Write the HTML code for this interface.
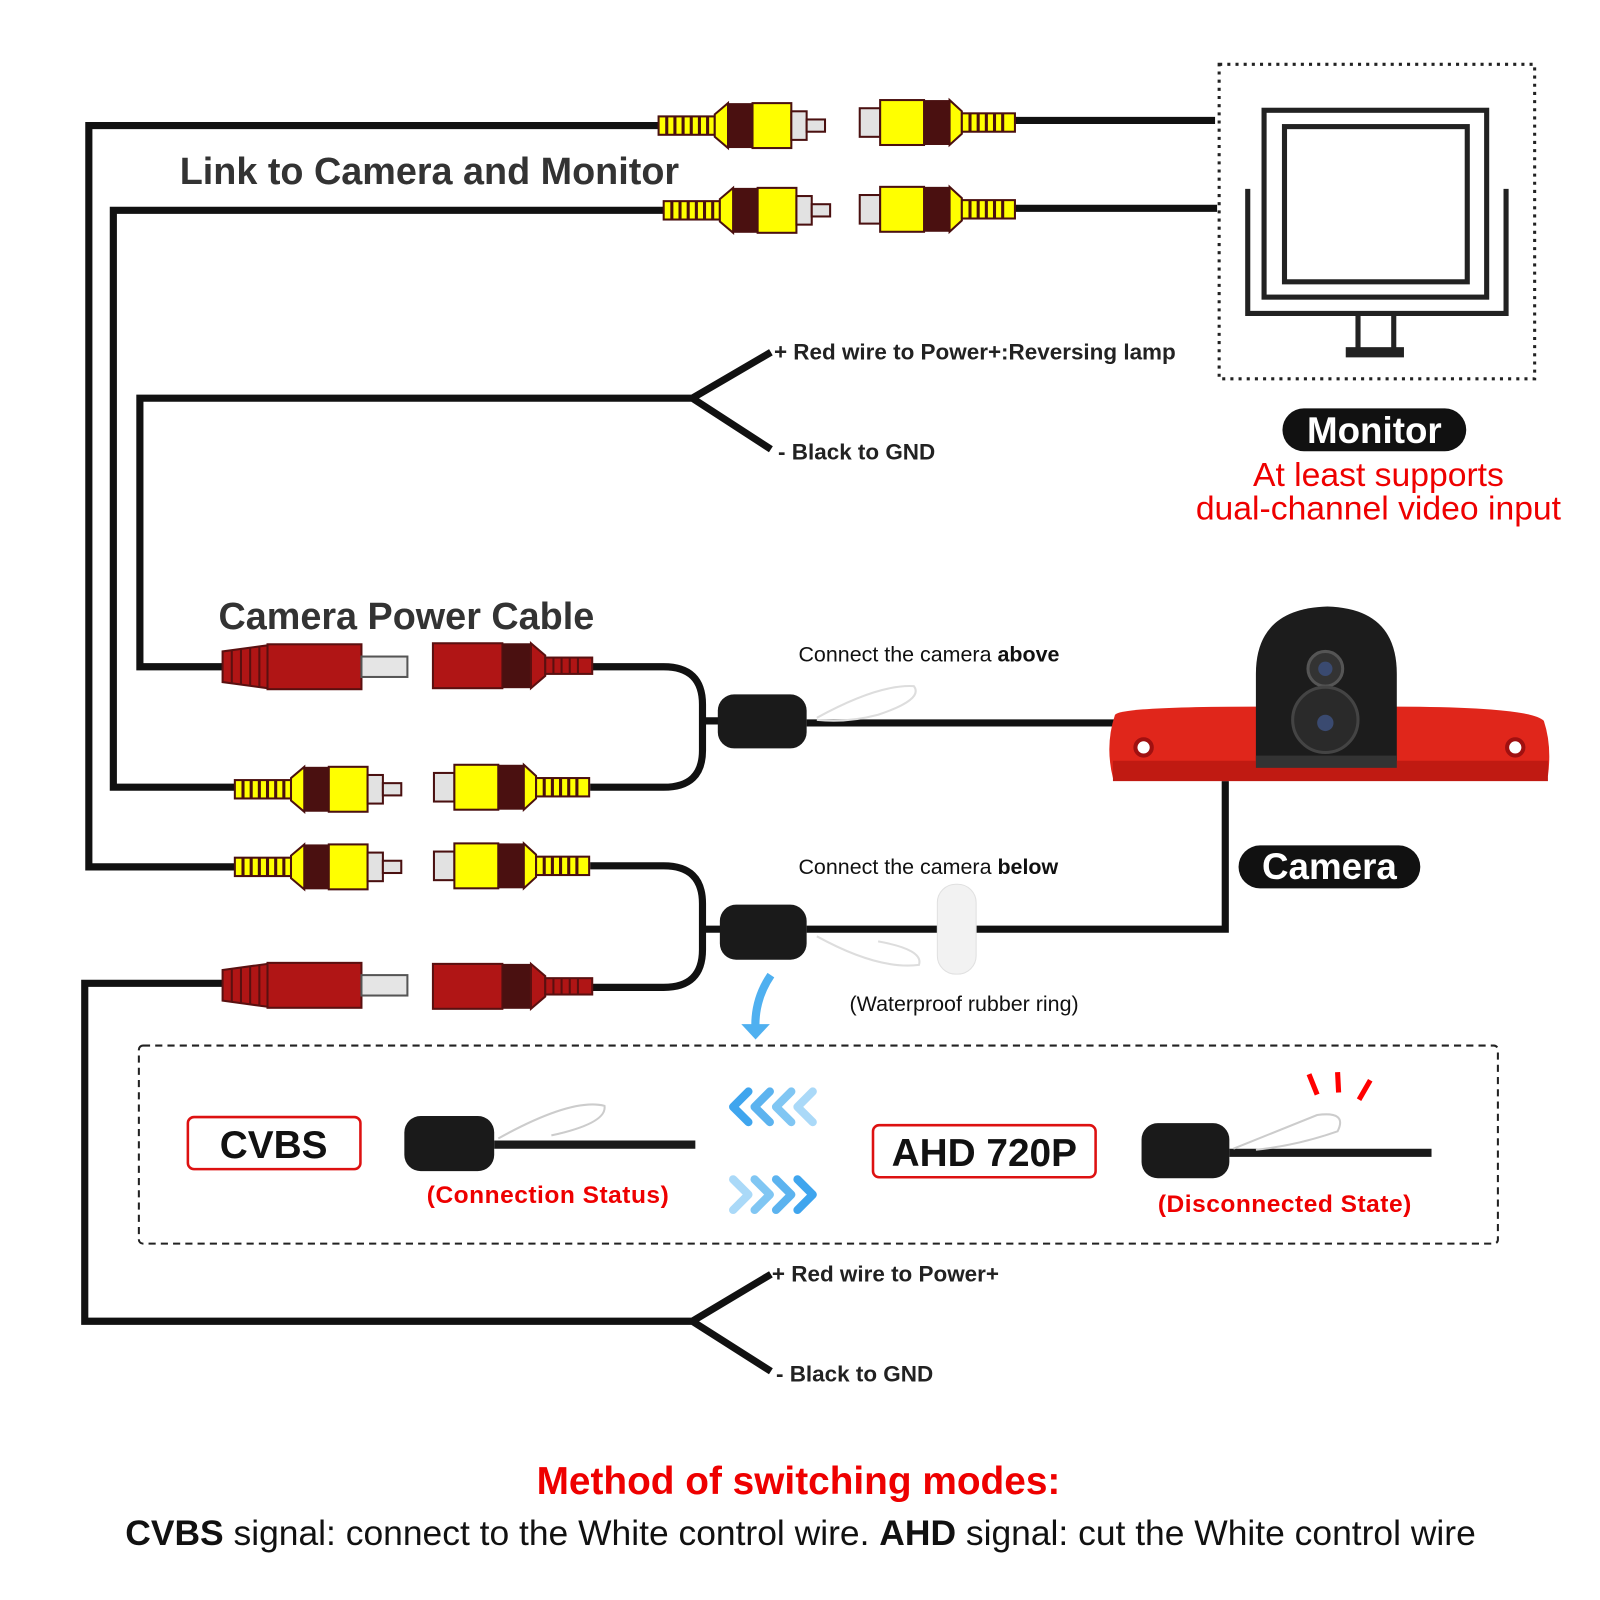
<!DOCTYPE html>
<html><head><meta charset="utf-8"><style>
html,body{margin:0;padding:0;background:#fff;}
svg{display:block;}
text{font-family:"Liberation Sans",Arial,sans-serif;}
</style></head><body>
<svg width="1600" height="1600" viewBox="0 0 1567 1567" xmlns="http://www.w3.org/2000/svg">
<defs>
<g id="ym">
  <rect x="0" y="-9" width="55" height="18" fill="#ff0" stroke="#4a1010" stroke-width="2"/>
  <path d="M8 -9V9M16 -9V9M24 -9V9M32 -9V9M40 -9V9M48 -9V9" stroke="#4a1010" stroke-width="3"/>
  <path d="M55 -11 L68 -22 V22 L55 11Z" fill="#ff0" stroke="#4a1010" stroke-width="2"/>
  <rect x="68" y="-22" width="24" height="44" fill="#4a1010"/>
  <rect x="92" y="-22" width="38" height="44" fill="#ff0" stroke="#4a1010" stroke-width="2"/>
  <rect x="130" y="-14" width="15" height="28" fill="#e2e2e2" stroke="#4a1010" stroke-width="2"/>
  <rect x="145" y="-6" width="18" height="12" fill="#e2e2e2" stroke="#4a1010" stroke-width="2"/>
</g>
<g id="yf">
  <rect x="0" y="-14" width="20" height="28" fill="#e2e2e2" stroke="#4a1010" stroke-width="2"/>
  <rect x="20" y="-22" width="43" height="44" fill="#ff0" stroke="#4a1010" stroke-width="2"/>
  <rect x="63" y="-22" width="25" height="44" fill="#4a1010"/>
  <path d="M88 -22 L100 -11 V11 L88 22Z" fill="#ff0" stroke="#4a1010" stroke-width="2"/>
  <rect x="100" y="-9" width="52" height="18" fill="#ff0" stroke="#4a1010" stroke-width="2"/>
  <path d="M108 -9V9M116 -9V9M124 -9V9M132 -9V9M140 -9V9" stroke="#4a1010" stroke-width="3"/>
</g>
<g id="rm">
  <path d="M0 -15 L44 -21 V21 L0 15Z" fill="#b01515" stroke="#5a1010" stroke-width="2"/>
  <path d="M9 -16V16M18 -17V17M27 -18V18M36 -19V19" stroke="#5a1010" stroke-width="2"/>
  <rect x="44" y="-22" width="92" height="44" fill="#b01515" stroke="#5a1010" stroke-width="2"/>
  <rect x="136" y="-10" width="45" height="20" fill="#e5e5e5" stroke="#555" stroke-width="2"/>
</g>
<g id="rf">
  <rect x="0" y="-22" width="68" height="44" fill="#b01515" stroke="#5a1010" stroke-width="2"/>
  <rect x="68" y="-22" width="28" height="44" fill="#4a1010"/>
  <path d="M96 -22 L110 -10 V10 L96 22Z" fill="#b01515" stroke="#5a1010" stroke-width="2"/>
  <rect x="110" y="-8" width="46" height="16" fill="#b01515" stroke="#5a1010" stroke-width="2"/>
  <path d="M118 -8V8M126 -8V8M134 -8V8M142 -8V8" stroke="#5a1010" stroke-width="2"/>
</g>
</defs>

<g fill="none" stroke="#111" stroke-width="7">
  <path d="M645 123 H87 V849 H230"/>
  <path d="M650 206 H111 V771 H230"/>
  <path d="M993 118 H1190"/>
  <path d="M993 204 H1192"/>
  <path d="M755 345 L678 390 L755 440 M678 390 H137 V653 H218"/>
  <path d="M578 771 H650 Q688 771 688 735 V690 Q688 653 650 653 H580 M688 706 H710"/>
  <path d="M790 708 H1100"/>
  <path d="M578 848 H650 Q688 848 688 885 V930 Q688 967 650 967 H580 M688 910 H710"/>
  <path d="M790 910 H1200 V765"/>
  <path d="M755 1248 L678 1294 L755 1343 M678 1294 H83 V963 H218"/>
</g>

<use href="#ym" x="645" y="123"/>
<use href="#yf" x="842" y="120"/>
<use href="#ym" x="650" y="206"/>
<use href="#yf" x="842" y="205"/>
<use href="#ym" x="230" y="773"/>
<use href="#yf" x="425" y="771"/>
<use href="#ym" x="230" y="849"/>
<use href="#yf" x="425" y="848"/>
<use href="#rm" x="218" y="653"/>
<use href="#rf" x="424" y="652"/>
<use href="#rm" x="218" y="965"/>
<use href="#rf" x="424" y="966"/>

<rect x="703" y="680" width="87" height="53" rx="16" fill="#1a1a1a"/>
<rect x="705" y="886" width="85" height="54" rx="16" fill="#1a1a1a"/>
<path d="M800 703 Q860 670 895 672 Q905 685 860 700 Q830 708 800 705" fill="none" stroke="#ddd" stroke-width="2"/>
<path d="M800 917 Q860 950 900 945 Q905 930 860 922" fill="none" stroke="#ddd" stroke-width="2"/>
<rect x="918" y="866" width="38" height="88" rx="18" fill="#f2f2f2" stroke="#e0e0e0"/>
<path d="M755 955 Q738 980 740 1010" fill="none" stroke="#4fb0f0" stroke-width="8"/>
<path d="M726 1003 L740 1018 L754 1003Z" fill="#4fb0f0"/>

<!-- monitor -->
<rect x="1194" y="63" width="309" height="308" fill="none" stroke="#222" stroke-width="3" stroke-dasharray="3 5"/>
<g fill="none" stroke="#222" stroke-width="5">
  <rect x="1238" y="108" width="218" height="183"/>
  <rect x="1258" y="124" width="179" height="152"/>
  <path d="M1222 185 V307 H1475 V185"/>
  <path d="M1330 307 V343 M1365 307 V343"/>
</g>
<rect x="1318" y="340" width="57" height="10" fill="#222"/>
<rect x="1256" y="400" width="180" height="42" rx="21" fill="#111"/>
<text x="1346" y="434" font-size="36" font-weight="bold" fill="#fff" text-anchor="middle">Monitor</text>
<text x="1350" y="476" font-size="33" fill="#e00" text-anchor="middle">At least supports</text>
<text x="1350" y="509" font-size="33" fill="#e00" text-anchor="middle">dual-channel video input</text>

<!-- camera -->
<path d="M1092 700 Q1100 692 1230 692 H1360 Q1500 692 1512 706 Q1520 730 1516 760 L1090 762 Q1082 730 1092 700Z" fill="#e0261b"/>
<path d="M1090 745 H1516 V765 H1090Z" fill="#c01a12"/>
<circle cx="1120" cy="732" r="8" fill="#fff" stroke="#a01010" stroke-width="4"/>
<circle cx="1484" cy="732" r="8" fill="#fff" stroke="#a01010" stroke-width="4"/>
<path d="M1230 745 V660 Q1230 596 1300 594 Q1368 596 1368 660 V745Z" fill="#1c1c1c"/>
<rect x="1230" y="740" width="138" height="12" fill="#333"/>
<circle cx="1298" cy="655" r="17" fill="#333" stroke="#555" stroke-width="3"/>
<circle cx="1298" cy="655" r="7" fill="#3a4a70"/>
<circle cx="1298" cy="705" r="32" fill="#2a2a2a" stroke="#444" stroke-width="3"/>
<circle cx="1298" cy="708" r="8" fill="#3a4a70"/>
<rect x="1213" y="828" width="178" height="42" rx="21" fill="#111"/>
<text x="1302" y="861" font-size="36" font-weight="bold" fill="#fff" text-anchor="middle">Camera</text>

<!-- labels -->
<text x="176" y="180" font-size="37" font-weight="bold" fill="#333">Link to Camera and Monitor</text>
<text x="214" y="616" font-size="37" font-weight="bold" fill="#333">Camera Power Cable</text>
<text x="758" y="352" font-size="22" font-weight="bold" fill="#222">+ Red wire to Power+:Reversing lamp</text>
<text x="762" y="450" font-size="22" font-weight="bold" fill="#222">- Black to GND</text>
<text x="782" y="648" font-size="21" fill="#111">Connect the camera <tspan font-weight="bold">above</tspan></text>
<text x="782" y="856" font-size="21" fill="#111">Connect the camera <tspan font-weight="bold">below</tspan></text>
<text x="832" y="990" font-size="21" fill="#111">(Waterproof rubber ring)</text>
<text x="756" y="1255" font-size="22" font-weight="bold" fill="#222">+ Red wire to Power+</text>
<text x="760" y="1353" font-size="22" font-weight="bold" fill="#222">- Black to GND</text>

<!-- dashed box -->
<rect x="136" y="1024" width="1331" height="194" rx="4" fill="none" stroke="#222" stroke-width="2" stroke-dasharray="7 5"/>
<rect x="184" y="1094" width="169" height="51" rx="6" fill="#fff" stroke="#d11" stroke-width="2.5"/>
<text x="268" y="1134" font-size="38" font-weight="bold" fill="#111" text-anchor="middle">CVBS</text>
<rect x="396" y="1093" width="88" height="54" rx="16" fill="#1a1a1a"/>
<path d="M484 1121 H681" stroke="#1a1a1a" stroke-width="8"/>
<path d="M488 1115 Q560 1075 592 1083 Q595 1100 540 1112" fill="none" stroke="#ccc" stroke-width="2"/>
<text x="418" y="1178" font-size="24" font-weight="bold" fill="#e00" letter-spacing="0.5">(Connection Status)</text>
<g fill="none" stroke-width="8" stroke-linecap="round" stroke-linejoin="round">
  <path d="M733 1069 L718 1084 L733 1099" stroke="#3fa5ee"/>
  <path d="M754 1069 L739 1084 L754 1099" stroke="#5cb3ef"/>
  <path d="M775 1069 L760 1084 L775 1099" stroke="#80c6f3"/>
  <path d="M796 1069 L781 1084 L796 1099" stroke="#aad9f8"/>
  <path d="M718 1155 L733 1170 L718 1185" stroke="#aad9f8"/>
  <path d="M739 1155 L754 1170 L739 1185" stroke="#80c6f3"/>
  <path d="M760 1155 L775 1170 L760 1185" stroke="#5cb3ef"/>
  <path d="M781 1155 L796 1170 L781 1185" stroke="#3fa5ee"/>
</g>
<rect x="855" y="1102" width="218" height="51" rx="6" fill="#fff" stroke="#d11" stroke-width="2.5"/>
<text x="964" y="1142" font-size="38" font-weight="bold" fill="#111" text-anchor="middle">AHD 720P</text>
<rect x="1118" y="1100" width="86" height="54" rx="16" fill="#1a1a1a"/>
<path d="M1204 1129 H1402" stroke="#1a1a1a" stroke-width="8"/>
<path d="M1208 1125 Q1270 1100 1290 1092 Q1320 1088 1310 1108 Q1270 1122 1230 1126" fill="none" stroke="#ccc" stroke-width="2"/>
<path d="M1282 1052 L1290 1072 M1310 1050 L1311 1070 M1342 1058 L1331 1077" stroke="#f00" stroke-width="5"/>
<text x="1134" y="1187" font-size="24" font-weight="bold" fill="#e00" letter-spacing="0.5">(Disconnected State)</text>

<!-- bottom -->
<text x="782" y="1463" font-size="38" font-weight="bold" fill="#e00" text-anchor="middle">Method of switching modes:</text>
<text x="784" y="1513" font-size="34.7" fill="#111" text-anchor="middle"><tspan font-weight="bold">CVBS</tspan> signal: connect to the White control wire. <tspan font-weight="bold">AHD</tspan> signal: cut the White control wire</text>
</svg>
</body></html>
